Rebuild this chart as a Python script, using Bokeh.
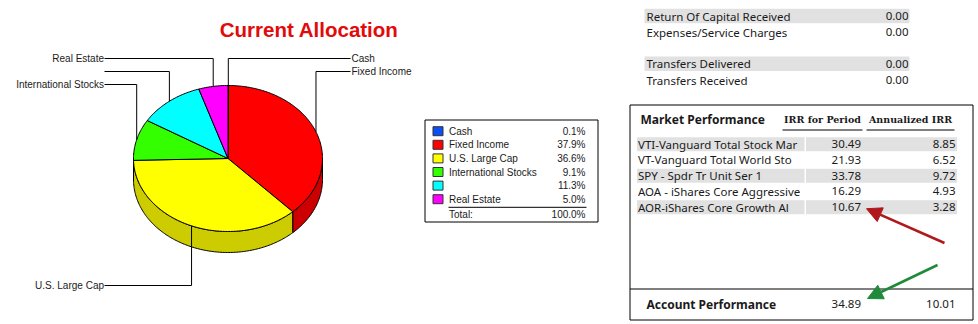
import numpy as np
from bokeh.plotting import figure
from bokeh.models import Range1d, Arrow, NormalHead
from bokeh.embed import file_html
from bokeh.resources import INLINE
from bokeh.core.properties import value

# ---------------- data ----------------
categories = ["Cash", "Fixed Income", "U.S. Large Cap", "International Stocks", "", "Real Estate"]
percents = [0.1, 37.9, 36.6, 9.1, 11.3, 5.0]
total_text = "Total:"
total_value = "100.0%"
title_text = "Current Allocation"

summary1_labels = ["Return Of Capital Received", "Expenses/Service Charges"]
summary1_values = ["0.00", "0.00"]
summary2_labels = ["Transfers Delivered", "Transfers Received"]
summary2_values = ["0.00", "0.00"]

perf_title = "Market Performance"
perf_headers = ["IRR for Period", "Annualized IRR"]
holding_names = ["VTI-Vanguard Total Stock Mar", "VT-Vanguard Total World Sto",
                 "SPY - Spdr Tr Unit Ser 1", "AOA - iShares Core Aggressive",
                 "AOR-iShares Core Growth Al"]
irr_period = [30.49, 21.93, 33.78, 16.29, 10.67]
irr_annual = [8.85, 6.52, 9.72, 4.93, 3.28]
account_label = "Account Performance"
account_period = 34.89
account_annual = 10.01

# ---------------- styles / layout ----------------
slice_colors = ["#0a50f5", "#ff0000", "#ffff00", "#33ff00", "#00ffff", "#ff00ff"]
side_colors = ["#0840c4", "#cc0000", "#cccc00", "#29cc00", "#00cccc", "#cc00cc"]
label_y = [58, 71, 285, 84, 71, 58]
CX, CY, RX, RY, DEPTH = 227.5, 158.0, 94.5, 73.0, 21.0
LEFT_LABEL_X, RIGHT_LABEL_X = 103.5, 351.0
LABEL_FONT = value("Liberation Sans")
TABLE_FONT = value("Noto Sans")
TXT = "#1a1a1a"

p = figure(width=978, height=324, x_range=Range1d(0, 978), y_range=Range1d(324, 0),
           toolbar_location=None, output_backend="svg", min_border=0,
           x_axis_location=None, y_axis_location=None)
p.grid.visible = False
p.outline_line_color = None
p.background_fill_color = "white"
p.border_fill_color = "white"


def ell(theta, dy=0.0):
    return CX + RX * np.sin(theta), CY - RY * np.cos(theta) + dy


# ---------------- pie ----------------
fr = np.array(percents) / sum(percents)
ends = np.cumsum(fr) * 2 * np.pi
starts = ends - fr * 2 * np.pi

# sides (front half only)
sx, sy, sc = [], [], []
for a, b, c in zip(starts, ends, side_colors):
    a2, b2 = max(a, np.pi / 2), min(b, 3 * np.pi / 2)
    if b2 <= a2:
        continue
    t = np.linspace(a2, b2, max(3, int((b2 - a2) * 60)))
    x1, y1 = ell(t)
    x2, y2 = ell(t[::-1], DEPTH)
    sx.append(list(x1) + list(x2))
    sy.append(list(y1) + list(y2))
    sc.append(c)
p.patches(sx, sy, fill_color=sc, line_color="black", line_width=1)

# tops
tx, ty = [], []
for a, b in zip(starts, ends):
    t = np.linspace(a, b, max(3, int((b - a) * 60)))
    x1, y1 = ell(t)
    tx.append([CX] + list(x1))
    ty.append([CY] + list(y1))
p.patches(tx, ty, fill_color=slice_colors, line_color="black", line_width=1)

# leader lines and labels
mids = (starts + ends) / 2
for name, m, ly in zip(categories, mids, label_y):
    ax, ay = ell(m)
    right = m < np.pi
    lx = RIGHT_LABEL_X - 1 if right else LEFT_LABEL_X + 0.5
    p.line([ax, ax, lx], [ay, ly, ly], line_color="black", line_width=1)
    if name:
        p.text([RIGHT_LABEL_X if right else LEFT_LABEL_X], [ly], text=[name],
               text_font=LABEL_FONT, text_font_size=value("10px"),
               text_align="left" if right else "right", text_baseline="middle",
               text_color=TXT)

p.text([308.7], [28.5], text=[title_text], text_font=value("Liberation Sans"),
       text_font_size=value("20.5px"), text_font_style="bold",
       text_color="#e30a0a", text_align="center", text_baseline="alphabetic")

# ---------------- legend box ----------------
p.quad(left=[424.5], right=[597.5], top=[119.5], bottom=[221.5],
       fill_color=None, line_color="black", line_width=1)
ly0, ldy = 130.7, 13.6
rows_y = [ly0 + i * ldy for i in range(len(categories))]
p.quad(left=[432.5] * len(rows_y), right=[442.5] * len(rows_y),
       top=[y - 4.5 for y in rows_y], bottom=[y + 4.5 for y in rows_y],
       fill_color=slice_colors, line_color="#333333", line_width=1)
p.text([448.5] * len(rows_y), rows_y, text=categories, text_font=LABEL_FONT,
       text_font_size=value("10px"), text_baseline="middle", text_color=TXT)
p.text([585] * len(rows_y), rows_y, text=[f"{v:.1f}%" for v in percents],
       text_font=LABEL_FONT, text_font_size=value("10px"), text_align="right",
       text_baseline="middle", text_color=TXT)
tot_y = ly0 + len(categories) * ldy + 1.5
p.line([448, 586], [tot_y - 7, tot_y - 7], line_color="black", line_width=1)
p.text([448.5], [tot_y], text=[total_text], text_font=LABEL_FONT,
       text_font_size=value("10px"), text_baseline="middle", text_color=TXT)
p.text([585], [tot_y], text=[total_value], text_font=LABEL_FONT,
       text_font_size=value("10px"), text_align="right", text_baseline="middle",
       text_color=TXT)

# ---------------- summary rows ----------------
GREY = "#e1e1e1"
for labels, vals, y0 in [(summary1_labels, summary1_values, 15.5),
                         (summary2_labels, summary2_values, 63.3)]:
    ys = [y0 + 16.2 * i for i in range(len(labels))]
    p.quad(left=[644], right=[909], top=[ys[0] - 7.2], bottom=[ys[0] + 7.2],
           fill_color=GREY, line_color=None)
    p.text([646] * len(ys), ys, text=labels, text_font=TABLE_FONT,
           text_font_size=value("11.5px"), text_baseline="middle", text_color=TXT)
    p.text([908] * len(ys), ys, text=vals, text_font=TABLE_FONT,
           text_font_size=value("11.5px"), text_baseline="middle", text_align="right",
           text_color=TXT)

# ---------------- market performance box ----------------
p.quad(left=[629.5], right=[972.5], top=[104.5], bottom=[319.5],
       fill_color=None, line_color="black", line_width=1)
p.line([629.5, 972.5], [288.5, 288.5], line_color="black", line_width=1)
p.text([640], [118.5], text=[perf_title], text_font=TABLE_FONT,
       text_font_size=value("12px"), text_font_style="bold",
       text_baseline="middle", text_color=TXT)
p.text([822, 910], [118.5, 118.5], text=perf_headers, text_font=value("DejaVu Serif"),
       text_font_size=value("9.5px"), text_font_style="bold", text_align="center",
       text_baseline="middle", text_color=TXT)
p.line([782, 862], [129.5, 129.5], line_color="black", line_width=1)
p.line([866, 954], [129.5, 129.5], line_color="black", line_width=1)

hy = [143.7 + 15.75 * i for i in range(len(holding_names))]
grey_rows = [y for i, y in enumerate(hy) if i % 2 == 0]
p.quad(left=[636.5] * len(grey_rows), right=[804] * len(grey_rows),
       top=[y - 7 for y in grey_rows], bottom=[y + 7 for y in grey_rows],
       fill_color=GREY, line_color=None)
p.quad(left=[805.5] * len(grey_rows), right=[956.5] * len(grey_rows),
       top=[y - 7 for y in grey_rows], bottom=[y + 7 for y in grey_rows],
       fill_color=GREY, line_color=None)
p.text([637.5] * len(hy), hy, text=holding_names, text_font=TABLE_FONT,
       text_font_size=value("11.5px"), text_baseline="middle", text_color=TXT)
p.text([860.5] * len(hy), hy, text=[f"{v:.2f}" for v in irr_period], text_font=TABLE_FONT,
       text_font_size=value("11.5px"), text_baseline="middle", text_align="right",
       text_color=TXT)
p.text([955] * len(hy), hy, text=[f"{v:.2f}" for v in irr_annual], text_font=TABLE_FONT,
       text_font_size=value("11.5px"), text_baseline="middle", text_align="right",
       text_color=TXT)

acc_y = 303.5
p.text([646], [acc_y], text=[account_label], text_font=TABLE_FONT,
       text_font_size=value("12px"), text_font_style="bold",
       text_baseline="middle", text_color=TXT)
p.text([860.5, 955], [acc_y, acc_y], text=[f"{account_period:.2f}", f"{account_annual:.2f}"],
       text_font=TABLE_FONT, text_font_size=value("11.5px"), text_baseline="middle",
       text_align="right", text_color=TXT)

# arrows
red = "#b0181c"
green = "#1f8a3a"
p.add_layout(Arrow(x_start=944, y_start=242.5, x_end=866, y_end=hy[-1] + 1.5,
                   line_color=red, line_width=2.5,
                   end=NormalHead(size=15, fill_color=red, line_color=red)))
p.add_layout(Arrow(x_start=937, y_start=264.5, x_end=867, y_end=acc_y - 5.5,
                   line_color=green, line_width=2.5,
                   end=NormalHead(size=15, fill_color=green, line_color=green)))

open("out.html", "w").write(file_html(p, INLINE))
